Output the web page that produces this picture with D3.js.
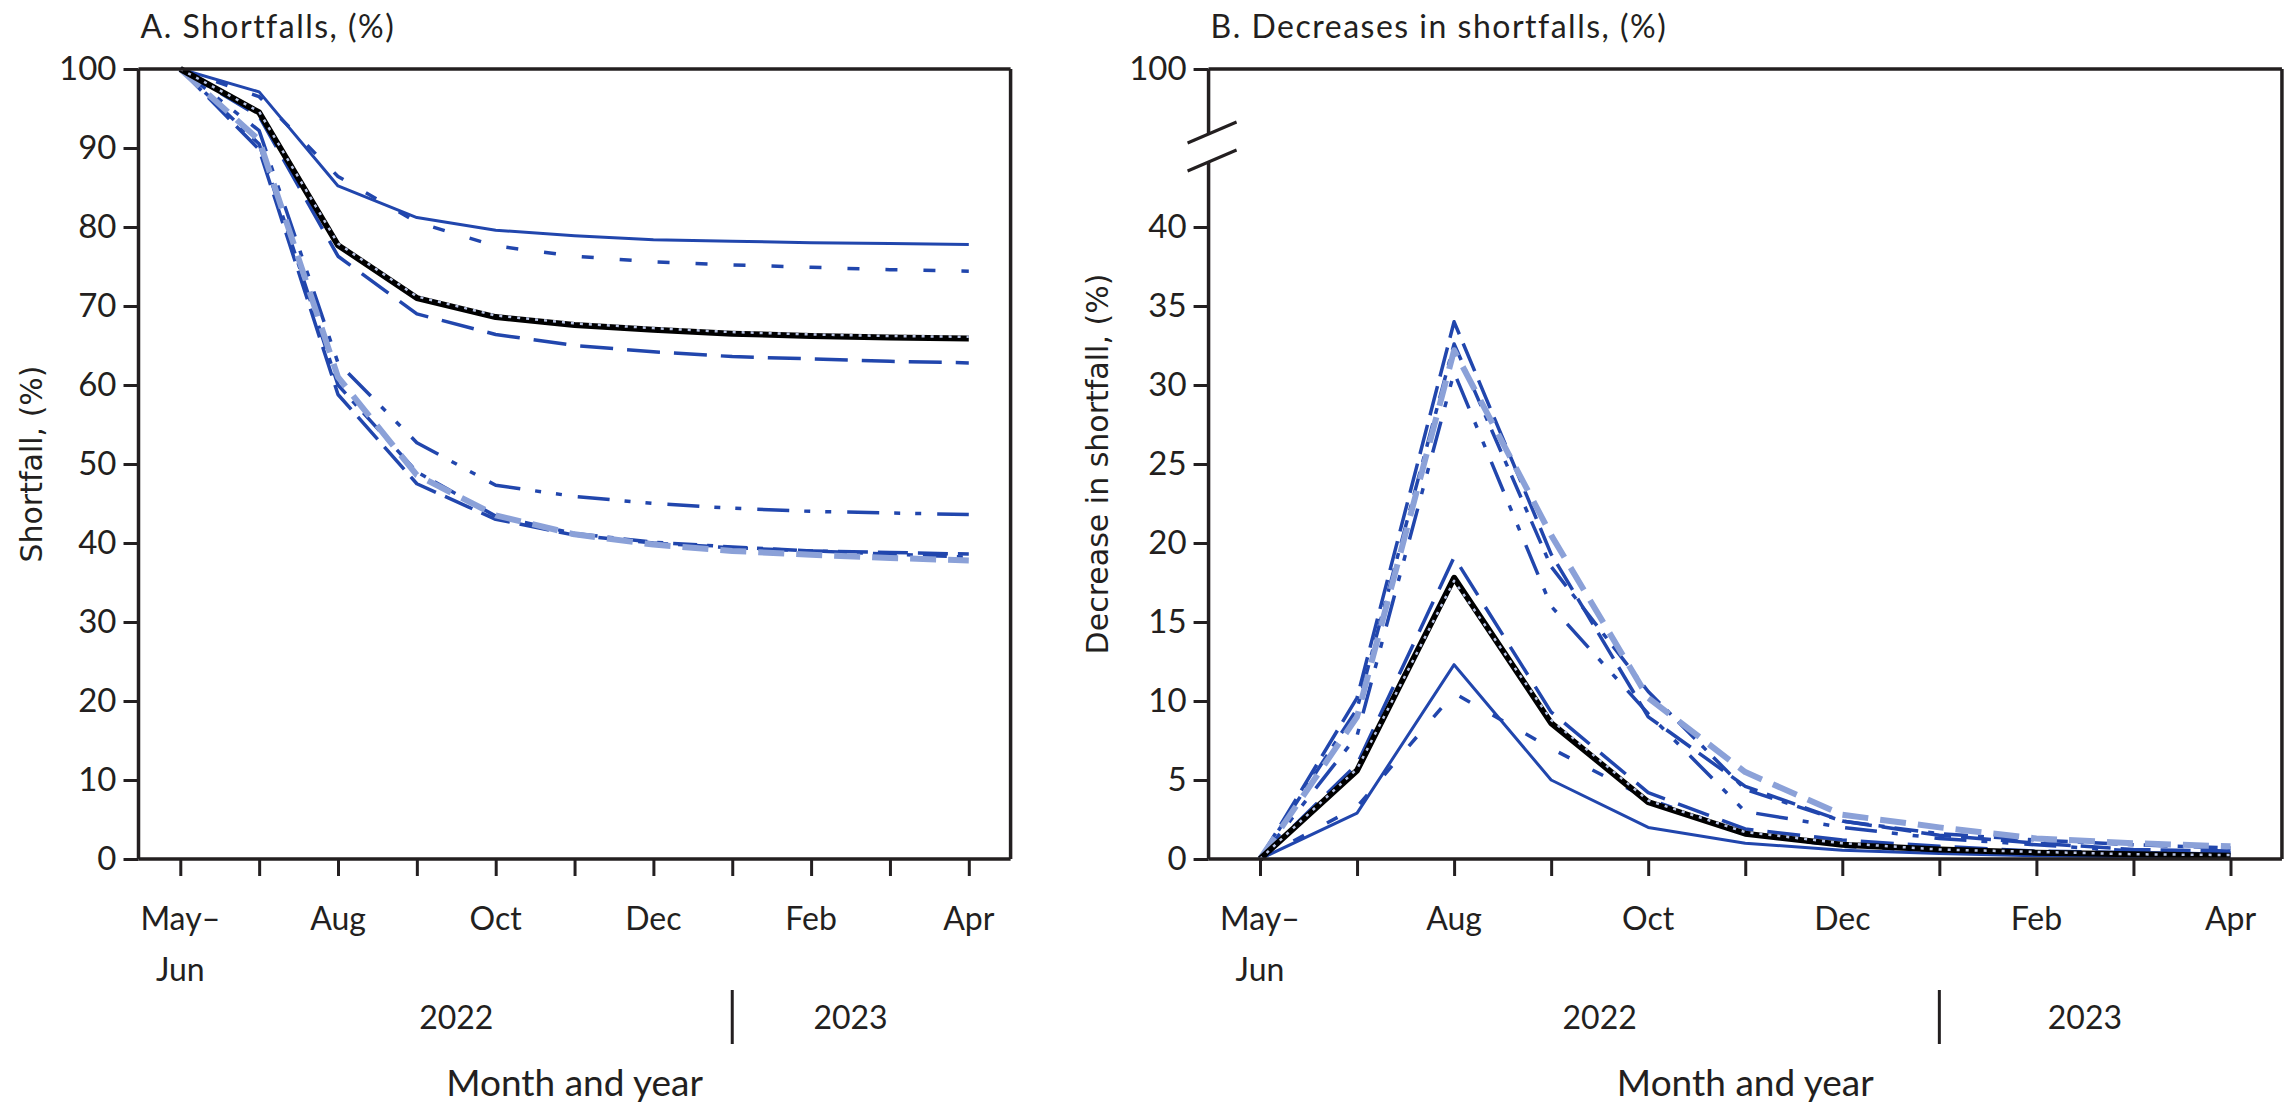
<!DOCTYPE html>
<html>
<head>
<meta charset="utf-8">
<script src="https://cdn.jsdelivr.net/npm/d3@7/dist/d3.min.js"></script>
<style>
  body { margin: 0; background: #fff; }
  svg text { font-family: Lato, "Open Sans", sans-serif; fill: #231f20; }
</style>
</head>
<body>
<svg id="chart" width="2290" height="1106"></svg>
<script>
// Months, May–Jun 2022 through Apr 2023 (one tick per month)
var months = ["May–Jun", "Jul", "Aug", "Sep", "Oct", "Nov", "Dec", "Jan", "Feb", "Mar", "Apr"];
var monthLabels = [["May–", "Jun"], null, ["Aug"], null, ["Oct"], null, ["Dec"], null, ["Feb"], null, ["Apr"]];
var years = ["2022", "2023"];
var yearBreak = 7; // Jan

// Panel A: shortfall (%)
var aSolid       = [100, 97.1, 85.2, 81.2, 79.6, 78.9, 78.4, 78.2, 78.0, 77.9, 77.8];
var aShortDash   = [100, 96.5, 86.4, 80.6, 77.6, 76.3, 75.6, 75.2, 74.9, 74.6, 74.4];
var aBlack       = [100, 94.5, 77.7, 71.0, 68.6, 67.6, 67.0, 66.5, 66.2, 66.0, 65.9];
var aBlackDots   = [100, 94.6, 77.9, 71.2, 68.8, 67.8, 67.2, 66.7, 66.4, 66.2, 66.1];
var aLongDash    = [100, 94.0, 76.3, 69.0, 66.4, 65.0, 64.2, 63.6, 63.3, 63.0, 62.8];
var aDashDotDot  = [100, 92.2, 62.8, 52.7, 47.3, 45.9, 45.0, 44.4, 44.0, 43.8, 43.6];
var aLowLongDash = [100, 89.8, 58.8, 47.5, 43.0, 41.0, 40.0, 39.4, 39.0, 38.8, 38.6];
var aLightBlue   = [100, 91.0, 61.0, 48.6, 43.5, 41.1, 39.8, 39.0, 38.5, 38.1, 37.8];
var aDashDot     = [100, 90.5, 60.0, 49.0, 43.4, 41.2, 40.1, 39.5, 39.0, 38.6, 38.2];

// Panel B: decrease in shortfall (%)
var bSolid       = [0, 2.9, 12.3, 5.0, 2.0, 1.0, 0.55, 0.35, 0.2, 0.15, 0.1];
var bShortDash   = [0, 3.3, 10.5, 7.0, 3.8, 1.6, 0.8, 0.5, 0.4, 0.35, 0.3];
var bBlack       = [0, 5.6, 17.8, 8.6, 3.6, 1.6, 0.9, 0.6, 0.4, 0.3, 0.2];
var bBlackDots   = [0, 5.7, 17.6, 8.8, 3.7, 1.7, 1.0, 0.6, 0.45, 0.3, 0.25];
var bLongDash    = [0, 6.0, 19.1, 9.3, 4.2, 1.9, 1.2, 0.8, 0.5, 0.4, 0.3];
var bDashDotDot  = [0, 7.8, 30.8, 16.0, 9.2, 3.0, 2.0, 1.3, 0.9, 0.5, 0.4];
var bLowLongDash = [0, 10.2, 34.0, 19.3, 9.0, 4.6, 2.4, 1.5, 1.0, 0.6, 0.5];
var bLightBlue   = [0, 9.0, 32.2, 20.5, 10.2, 5.5, 2.8, 2.0, 1.3, 1.0, 0.8];
var bDashDot     = [0, 9.5, 32.6, 18.5, 10.6, 4.4, 2.4, 1.6, 1.2, 0.9, 0.7];

var yTicksA = d3.range(0, 101, 10);
var yTicksB = [0, 5, 10, 15, 20, 25, 30, 35, 40, 100];

// line styles, drawn in this order
var blue = "#2146ad", light = "#8ba1d8";
var styles = [
  { key: "solid",       color: blue,      width: 3,   dash: null },
  { key: "shortDash",   color: blue,      width: 3.5, dash: "12,26" },
  { key: "longDash",    color: blue,      width: 3.5, dash: "33,14" },
  { key: "dashDotDot",  color: blue,      width: 3.5, dash: "32,15,6,15,6,16" },
  { key: "lowLongDash", color: blue,      width: 3.5, dash: "30,10" },
  { key: "dashDot",     color: blue,      width: 3.5, dash: "24,10,6,10" },
  { key: "lightBlue",   color: light,     width: 6,   dash: "26,12" },
  { key: "black",       color: "#000",    width: 6,   dash: null },
  { key: "blackDots",   color: "#b9c4e4", width: 2.5, dash: "3,6" }
];

var seriesA = { solid: aSolid, shortDash: aShortDash, black: aBlack, blackDots: aBlackDots,
  longDash: aLongDash, dashDotDot: aDashDotDot, lowLongDash: aLowLongDash, lightBlue: aLightBlue, dashDot: aDashDot };
var seriesB = { solid: bSolid, shortDash: bShortDash, black: bBlack, blackDots: bBlackDots,
  longDash: bLongDash, dashDotDot: bDashDotDot, lowLongDash: bLowLongDash, lightBlue: bLightBlue, dashDot: bDashDot };

var svg = d3.select("#chart");
var ink = "#231f20";
var top0 = 69, bottom0 = 859;

function drawPanel(opt) {
  var g = svg.append("g");
  var x = d3.scaleLinear().domain([0, months.length - 1]).range([opt.first, opt.last]);
  var left = x(-0.53), right = x(10.53);
  var y = opt.y;

  // lines
  var line = d3.line().x(function(d, i) { return x(i); }).y(function(d) { return y(d); });
  styles.forEach(function(s) {
    g.append("path")
      .datum(opt.series[s.key])
      .attr("d", line)
      .attr("fill", "none")
      .attr("stroke", s.color)
      .attr("stroke-width", s.width)
      .attr("stroke-dasharray", s.dash)
      .attr("stroke-linejoin", "round");
  });

  // y axis ticks + labels
  var yAxis = d3.axisLeft(y).tickValues(opt.yTicks).tickSize(15).tickPadding(7).tickSizeOuter(0);
  var ya = g.append("g").attr("transform", "translate(" + left + ",0)").call(yAxis);
  ya.select(".domain").remove();
  ya.selectAll("line").attr("stroke", ink).attr("stroke-width", 3);
  ya.selectAll("text").attr("font-size", 33).attr("fill", ink).style("font-family", "Lato");

  // x ticks
  var xAxis = d3.axisBottom(x).tickValues(d3.range(months.length)).tickSize(17).tickFormat("").tickSizeOuter(0);
  var xa = g.append("g").attr("transform", "translate(0," + y(0) + ")").call(xAxis);
  xa.select(".domain").remove();
  xa.selectAll("line").attr("stroke", ink).attr("stroke-width", 3);

  monthLabels.forEach(function(lab, i) {
    if (!lab) return;
    lab.forEach(function(t, k) {
      g.append("text").attr("x", x(i)).attr("y", 930 + k * 51)
        .attr("text-anchor", "middle").attr("font-size", 32).text(t);
    });
  });

  // frame
  var frame = g.append("g").attr("stroke", ink).attr("stroke-width", 3.5).attr("fill", "none");
  frame.append("line").attr("x1", left).attr("x2", right).attr("y1", y(0)).attr("y2", y(0));
  frame.append("line").attr("x1", left).attr("x2", right).attr("y1", y(100)).attr("y2", y(100));
  frame.append("line").attr("x1", right).attr("x2", right).attr("y1", y(100)).attr("y2", y(0));
  if (opt.broken) {
    var b1 = 134, b2 = 162;
    frame.append("line").attr("x1", left).attr("x2", left).attr("y1", y(100)).attr("y2", b1);
    frame.append("line").attr("x1", left).attr("x2", left).attr("y1", b2).attr("y2", y(0));
    [b1, b2].forEach(function(by) {
      frame.append("line").attr("x1", left - 21).attr("y1", by + 9)
        .attr("x2", left + 28).attr("y2", by - 12).attr("stroke-width", 3);
    });
  } else {
    frame.append("line").attr("x1", left).attr("x2", left).attr("y1", y(100)).attr("y2", y(0));
  }

  // years
  g.append("text").attr("x", (x(0) + x(yearBreak)) / 2).attr("y", 1029)
    .attr("text-anchor", "middle").attr("font-size", 32).text(years[0]);
  g.append("text").attr("x", (x(yearBreak) + x(months.length - 1)) / 2).attr("y", 1029)
    .attr("text-anchor", "middle").attr("font-size", 32).text(years[1]);
  g.append("line").attr("x1", x(yearBreak)).attr("x2", x(yearBreak)).attr("y1", 990).attr("y2", 1044)
    .attr("stroke", ink).attr("stroke-width", 3);

  // axis titles
  g.append("text").attr("x", (left + right) / 2).attr("y", 1096)
    .attr("text-anchor", "middle").attr("font-size", 37).text("Month and year");
  g.append("text")
    .attr("transform", "translate(" + opt.yTitleX + "," + (top0 + bottom0) / 2 + ") rotate(-90)")
    .attr("text-anchor", "middle").attr("font-size", 30)
    .style("font-family", "'DejaVu Sans', Verdana, sans-serif")
    .text(opt.yTitle);

  // panel title
  g.append("text").attr("x", left + 2).attr("y", 38).attr("font-size", 32)
    .attr("letter-spacing", 1.5).text(opt.title);
}

drawPanel({
  first: 180.3, last: 968.8,
  y: d3.scaleLinear().domain([0, 100]).range([bottom0, top0]),
  yTicks: yTicksA, series: seriesA, broken: false,
  title: "A. Shortfalls, (%)", yTitle: "Shortfall, (%)", yTitleX: 42
});

drawPanel({
  first: 1260, last: 2230.5,
  y: d3.scaleLinear().domain([0, 40, 100]).range([bottom0, 227, top0]),
  yTicks: yTicksB, series: seriesB, broken: true,
  title: "B. Decreases in shortfalls, (%)", yTitle: "Decrease in shortfall, (%)", yTitleX: 1108
});
</script>
</body>
</html>
